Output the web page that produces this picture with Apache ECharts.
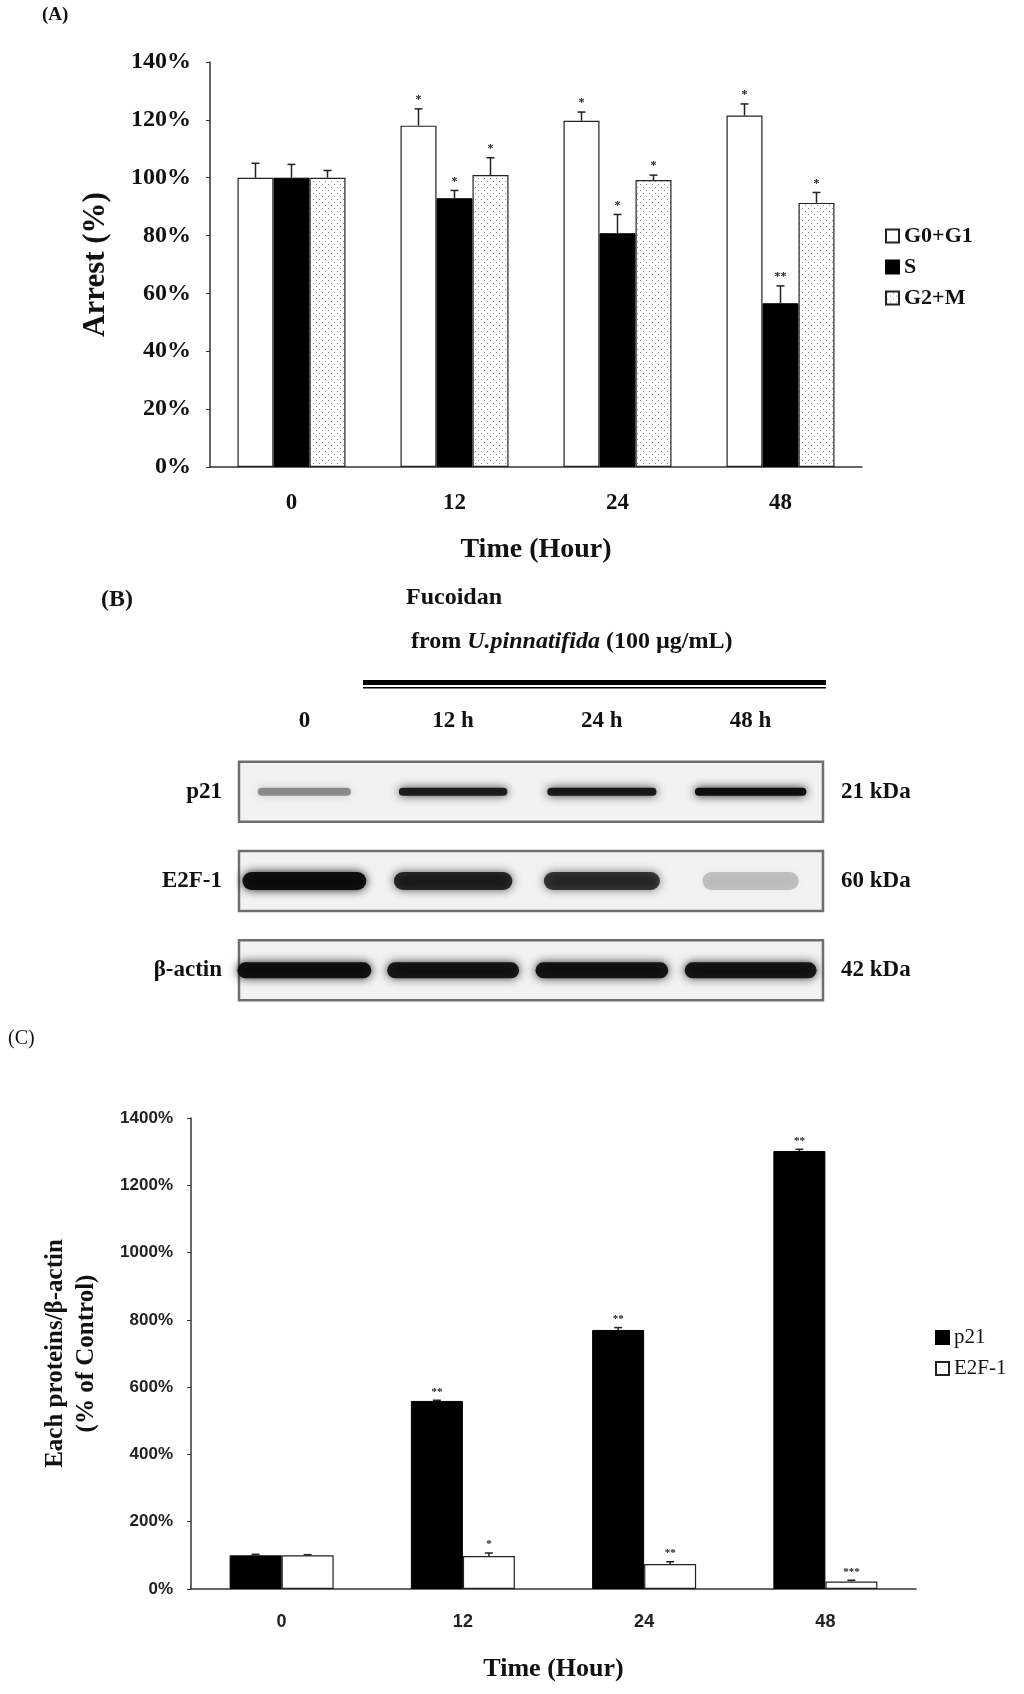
<!DOCTYPE html>
<html>
<head>
<meta charset="utf-8">
<script src="https://cdn.jsdelivr.net/npm/echarts@6/dist/echarts.min.js"></script>
<style>
    html, body { margin: 0; padding: 0; background: #fff; }
    #main { width: 1024px; height: 1694px; }
</style>
</head>
<body>
<div id="main"></div>
<script>
// (A) cell cycle arrest
var hoursA = ['0', '12', '24', '48'];
var g0g1 = [100, 118, 119.7, 121.5];
var g0g1Err = [5, 5.8, 3, 4];
var g0g1Sig = ['', '*', '*', '*'];
var sPhase = [100, 92.9, 80.8, 56.6];
var sPhaseErr = [4.6, 2.7, 6.5, 6];
var sPhaseSig = ['', '*', '*', '**'];
var g2m = [100, 100.9, 99.2, 91.3];
var g2mErr = [2.5, 6, 1.7, 3.6];
var g2mSig = ['', '*', '*', '*'];

// (B) western blot band intensity (0..1)
var lanes = ['0', '12 h', '24 h', '48 h'];
var blotRows = ['p21', 'E2F-1', 'β-actin'];
var blotKDa = ['21 kDa', '60 kDa', '42 kDa'];
var p21Band = [0.4, 0.88, 0.9, 0.97];
var e2f1Band = [0.97, 0.82, 0.75, 0.2];
var actinBand = [0.95, 0.9, 0.92, 0.9];

// (C) protein / beta-actin, % of control
var hoursC = ['0', '12', '24', '48'];
var p21 = [100, 559, 770, 1302];
var p21Err = [3, 2, 7, 5];
var p21Sig = ['', '**', '**', '**'];
var e2f1 = [100, 98, 74, 22];
var e2f1Err = [2, 9, 7, 4];
var e2f1Sig = ['', '*', '**', '***'];

var serif = '"Liberation Serif", "DejaVu Serif", serif';
var sans = '"Liberation Sans", "Noto Sans", sans-serif';

// dotted fill for G2+M
var dot = document.createElement('canvas');
dot.width = 6;
dot.height = 6;
var ctx = dot.getContext('2d');
ctx.fillStyle = '#fff';
ctx.fillRect(0, 0, 6, 6);
ctx.fillStyle = '#8a8a8a';
ctx.fillRect(1, 1, 1, 1);
ctx.fillRect(4, 4, 1, 1);

function errorSeries(axisIdx, values, errs, sigs, offset, starSize) {
    return {
        type: 'custom',
        xAxisIndex: axisIdx,
        yAxisIndex: axisIdx,
        z: 5,
        silent: true,
        data: values.map(function (v, i) { return [i, v, errs[i]]; }),
        renderItem: function (params, api) {
            var top = api.coord([api.value(0), api.value(1)]);
            var cap = api.coord([api.value(0), api.value(1) + api.value(2)]);
            var x = top[0] + offset;
            return {
                type: 'group',
                children: [
                    {type: 'line', shape: {x1: x, y1: top[1], x2: x, y2: cap[1]}, style: {stroke: '#222', lineWidth: 1.5}},
                    {type: 'line', shape: {x1: x - 4, y1: cap[1], x2: x + 4, y2: cap[1]}, style: {stroke: '#222', lineWidth: 1.5}},
                    {
                        type: 'text', x: x, y: cap[1] - 3,
                        style: {
                            text: sigs[params.dataIndex], fill: '#222', align: 'center', verticalAlign: 'bottom',
                            font: 'bold ' + starSize + 'px ' + serif
                        }
                    }
                ]
            };
        }
    };
}

var bandRows = [p21Band, e2f1Band, actinBand];
var bandH = [8, 18, 16];
var bandW = [0.72, 0.8, 0.87];
var bandData = [];
bandRows.forEach(function (row, r) {
    row.forEach(function (v, l) { bandData.push([l, r, v]); });
});

var axisText = {fontFamily: serif, fontWeight: 'bold', color: '#111'};
var axisTextSans = {fontFamily: sans, fontWeight: 'bold', color: '#222'};

var option = {
    backgroundColor: '#fff',
    animation: false,
    grid: [
        {left: 210, right: 162, top: 62, bottom: 1694 - 467},
        {left: 230, right: 199, top: 747, bottom: 1694 - 1015},
        {left: 191, right: 108, top: 1118, bottom: 1694 - 1589}
    ],
    legend: [
        {
            left: 880, top: 220, orient: 'vertical', itemGap: 9, itemWidth: 13, itemHeight: 13,
            icon: 'rect', data: ['G0+G1', 'S', 'G2+M'],
            textStyle: {fontFamily: serif, fontWeight: 'bold', fontSize: 22, color: '#111'}
        },
        {
            left: 930, top: 1322, orient: 'vertical', itemGap: 10, itemWidth: 13, itemHeight: 13,
            icon: 'rect', data: ['p21', 'E2F-1'],
            textStyle: {fontFamily: serif, fontSize: 21, color: '#111'}
        }
    ],
    xAxis: [
        {
            gridIndex: 0, type: 'category', data: hoursA,
            axisLine: {lineStyle: {color: '#333', width: 1.5}}, axisTick: {show: false},
            axisLabel: Object.assign({fontSize: 23, margin: 25}, axisText),
            name: 'Time (Hour)', nameLocation: 'middle', nameGap: 69,
            nameTextStyle: Object.assign({fontSize: 28}, axisText)
        },
        {
            gridIndex: 1, type: 'category', data: lanes, position: 'top',
            axisLine: {show: false}, axisTick: {show: false},
            axisLabel: Object.assign({fontSize: 23, margin: 14}, axisText)
        },
        {
            gridIndex: 2, type: 'category', data: hoursC,
            axisLine: {lineStyle: {color: '#333', width: 1.5}}, axisTick: {show: false},
            axisLabel: Object.assign({fontSize: 18, margin: 24}, axisTextSans),
            name: 'Time (Hour)', nameLocation: 'middle', nameGap: 67,
            nameTextStyle: Object.assign({fontSize: 26}, axisText)
        }
    ],
    yAxis: [
        {
            gridIndex: 0, type: 'value', min: 0, max: 140, interval: 20,
            splitLine: {show: false},
            axisLine: {show: true, lineStyle: {color: '#333', width: 1.5}},
            axisTick: {show: true, length: 4, lineStyle: {color: '#333'}},
            axisLabel: Object.assign({fontSize: 24, margin: 19, formatter: '{value}%'}, axisText),
            name: 'Arrest (%)', nameLocation: 'middle', nameGap: 99, nameRotate: 90,
            nameTextStyle: Object.assign({fontSize: 31}, axisText)
        },
        {
            gridIndex: 1, type: 'category', data: blotRows, inverse: true,
            axisLine: {show: false}, axisTick: {show: false},
            axisLabel: Object.assign({fontSize: 23, margin: 8}, axisText)
        },
        {
            gridIndex: 2, type: 'value', min: 0, max: 1400, interval: 200,
            splitLine: {show: false},
            axisLine: {show: true, lineStyle: {color: '#333', width: 1.5}},
            axisTick: {show: true, length: 4, lineStyle: {color: '#333'}},
            axisLabel: Object.assign({
                fontSize: 17, margin: 18,
                formatter: function (v) { return v + '%'; }
            }, axisTextSans),
            name: 'Each proteins/β-actin\n(% of Control)', nameLocation: 'middle', nameGap: 89, nameRotate: 90,
            nameTextStyle: Object.assign({fontSize: 25, lineHeight: 31}, axisText)
        },
        {
            gridIndex: 1, type: 'category', data: blotKDa, inverse: true, position: 'right',
            axisLine: {show: false}, axisTick: {show: false},
            axisLabel: Object.assign({fontSize: 23, margin: 16}, axisText)
        }
    ],
    series: [
        {
            name: 'G0+G1', type: 'bar', xAxisIndex: 0, yAxisIndex: 0, data: g0g1,
            barWidth: 36, barGap: '0%',
            itemStyle: {color: '#fff', borderColor: '#222', borderWidth: 1.2}
        },
        {
            name: 'S', type: 'bar', xAxisIndex: 0, yAxisIndex: 0, data: sPhase,
            barWidth: 36, barGap: '0%',
            itemStyle: {color: '#000', borderColor: '#000', borderWidth: 1}
        },
        {
            name: 'G2+M', type: 'bar', xAxisIndex: 0, yAxisIndex: 0, data: g2m,
            barWidth: 36, barGap: '0%',
            itemStyle: {color: {image: dot, repeat: 'repeat'}, borderColor: '#222', borderWidth: 1.2}
        },
        errorSeries(0, g0g1, g0g1Err, g0g1Sig, -36, 12),
        errorSeries(0, sPhase, sPhaseErr, sPhaseSig, 0, 12),
        errorSeries(0, g2m, g2mErr, g2mSig, 36, 12),

        // blot frames
        {
            type: 'custom', xAxisIndex: 1, yAxisIndex: 1, silent: true, z: 1,
            data: blotRows.map(function (n, r) { return [0, r]; }),
            renderItem: function (params, api) {
                var cs = params.coordSys;
                var c = api.coord([0, api.value(1)]);
                var h = 60;
                return {
                    type: 'rect',
                    shape: {x: cs.x + 9, y: c[1] - h / 2, width: cs.width - 11, height: h},
                    style: {fill: '#f2f2f2', stroke: '#6f6f6f', lineWidth: 2.5}
                };
            }
        },
        // blot bands
        {
            type: 'custom', xAxisIndex: 1, yAxisIndex: 1, silent: true, z: 2,
            data: bandData,
            renderItem: function (params, api) {
                var c = api.coord([api.value(0), api.value(1)]);
                var laneW = api.size([1, 0])[0];
                var r = api.value(1);
                var v = api.value(2);
                var w = laneW * bandW[r] * (0.75 + 0.3 * v);
                var h = bandH[r];
                var col = 'rgba(10,10,10,' + v + ')';
                return {
                    type: 'rect',
                    shape: {x: c[0] - w / 2, y: c[1] - h / 2, width: w, height: h, r: h / 2},
                    style: {fill: col, shadowBlur: 10, shadowColor: col}
                };
            }
        },

        {
            name: 'p21', type: 'bar', xAxisIndex: 2, yAxisIndex: 2, data: p21,
            barWidth: 52, barGap: '0%',
            itemStyle: {color: '#000', borderColor: '#000', borderWidth: 1}
        },
        {
            name: 'E2F-1', type: 'bar', xAxisIndex: 2, yAxisIndex: 2, data: e2f1,
            barWidth: 52, barGap: '0%',
            itemStyle: {color: '#fff', borderColor: '#222', borderWidth: 1.2}
        },
        errorSeries(2, p21, p21Err, p21Sig, -26, 11),
        errorSeries(2, e2f1, e2f1Err, e2f1Sig, 26, 11)
    ],
    graphic: [
        {type: 'text', left: 42, top: 6, style: {text: '(A)', font: 'bold 19px ' + serif, fill: '#111'}},
        {type: 'text', left: 101, top: 588, style: {text: '(B)', font: 'bold 24px ' + serif, fill: '#111'}},
        {type: 'text', left: 406, top: 586, style: {text: 'Fucoidan', font: 'bold 24px ' + serif, fill: '#111'}},
        {
            type: 'text', left: 411, top: 630,
            style: {
                text: '{n|from }{i|U.pinnatifida}{n| (100 µg/mL)}',
                rich: {
                    n: {fontFamily: serif, fontWeight: 'bold', fontSize: 24, fill: '#111'},
                    i: {fontFamily: serif, fontWeight: 'bold', fontStyle: 'italic', fontSize: 24, fill: '#111'}
                }
            }
        },
        {type: 'rect', shape: {x: 363, y: 680, width: 463, height: 5}, style: {fill: '#000'}},
        {type: 'rect', shape: {x: 363, y: 687, width: 463, height: 1.5}, style: {fill: '#000'}},
        {type: 'text', left: 8, top: 1029, style: {text: '(C)', font: '20px ' + serif, fill: '#111'}}
    ]
};

echarts.init(document.getElementById('main')).setOption(option);
</script>
</body>
</html>
